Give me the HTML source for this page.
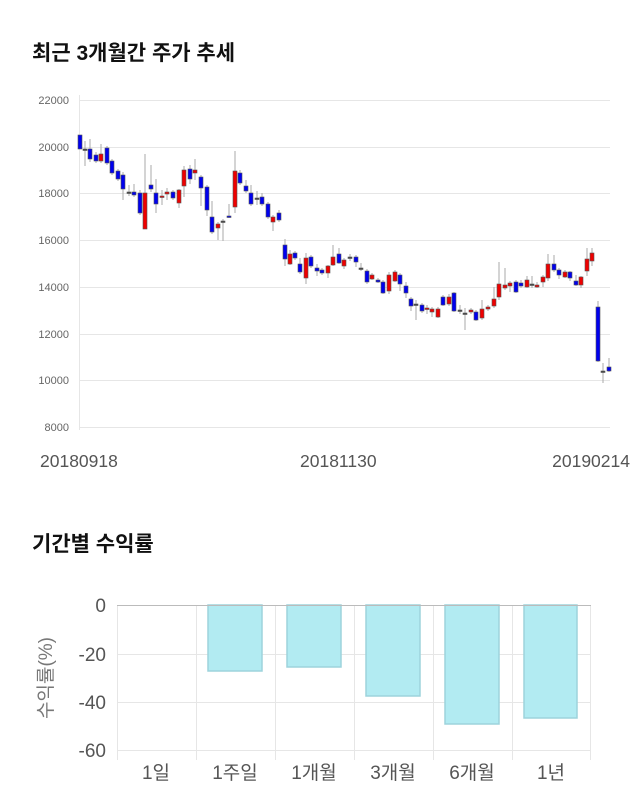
<!DOCTYPE html>
<html><head><meta charset="utf-8"><style>
body{margin:0;background:#fff;width:640px;height:810px;overflow:hidden;font-family:"Liberation Sans","Noto Sans CJK KR",sans-serif}
svg{position:absolute;left:0;top:0}
</style></head><body>
<svg id="s" width="640" height="810" xmlns="http://www.w3.org/2000/svg" font-family="Liberation Sans, Noto Sans CJK KR, sans-serif">
<text x="32" y="60" font-size="21" font-weight="bold" fill="#111">최근 3개월간 주가 추세</text>
<text x="32" y="551" font-size="21" font-weight="bold" fill="#111">기간별 수익률</text>
<g stroke="#e6e6e6" stroke-width="1">
<line x1="80" y1="100.5" x2="610" y2="100.5"/><line x1="80" y1="147.5" x2="610" y2="147.5"/>
<line x1="80" y1="193.5" x2="610" y2="193.5"/><line x1="80" y1="240.5" x2="610" y2="240.5"/>
<line x1="80" y1="287.5" x2="610" y2="287.5"/><line x1="80" y1="334.5" x2="610" y2="334.5"/>
<line x1="80" y1="380.5" x2="610" y2="380.5"/><line x1="80" y1="427.5" x2="610" y2="427.5"/>
<line x1="79.5" y1="95" x2="79.5" y2="430"/>
</g>
<g font-size="11" fill="#666" text-anchor="end">
<text x="69" y="104">22000</text><text x="69" y="151">20000</text><text x="69" y="197">18000</text>
<text x="69" y="244">16000</text><text x="69" y="291">14000</text><text x="69" y="338">12000</text>
<text x="69" y="384">10000</text><text x="69" y="431">8000</text>
</g>
<g font-size="17.5" fill="#555">
<text x="40" y="467">20180918</text><text x="300" y="467">20181130</text><text x="630" y="467" text-anchor="end">20190214</text>
</g>
<g id="c"></g>
<g stroke="#e6e6e6" stroke-width="1">
<line x1="117" y1="605.5" x2="591" y2="605.5"/><line x1="117" y1="654.5" x2="591" y2="654.5"/>
<line x1="117" y1="702.5" x2="591" y2="702.5"/><line x1="117" y1="750.5" x2="591" y2="750.5"/>
<line x1="196.5" y1="605" x2="196.5" y2="760"/><line x1="275.5" y1="605" x2="275.5" y2="760"/>
<line x1="354.5" y1="605" x2="354.5" y2="760"/><line x1="433.5" y1="605" x2="433.5" y2="760"/>
<line x1="512.5" y1="605" x2="512.5" y2="760"/><line x1="590.5" y1="605" x2="590.5" y2="760"/>
<line x1="117.5" y1="605" x2="117.5" y2="760"/>
</g>
<g fill="#b2ebf2" stroke="#9dd3dc" stroke-width="1.5">
<rect x="208" y="605" width="54" height="66"/><rect x="287" y="605" width="54" height="62"/>
<rect x="366" y="605" width="54" height="91"/><rect x="445" y="605" width="54" height="119"/>
<rect x="524" y="605" width="53" height="113"/>
</g>
<line x1="117" y1="605.5" x2="591" y2="605.5" stroke="#bbb"/>
<g font-size="19" fill="#555" text-anchor="end">
<text x="106" y="612">0</text><text x="106" y="661">-20</text><text x="106" y="709">-40</text><text x="106" y="757">-60</text>
</g>
<text transform="translate(52,678) rotate(-90)" font-size="19" fill="#777" text-anchor="middle">수익률(%)</text>
<g font-size="19" fill="#555" text-anchor="middle">
<text x="156" y="779">1일</text><text x="235" y="779">1주일</text><text x="314" y="779">1개월</text>
<text x="393" y="779">3개월</text><text x="472" y="779">6개월</text><text x="551" y="779">1년</text>
</g>
</svg>
<script>
var D=[[80,135,149,135,149,'b'],[85,141,166,149,149,'d'],[90,139,162,149,159,'b'],[96,152,163,155,161,'b'],[101,144,163,154,161,'r'],[107,146,165,148,163,'b'],[112,159,175,161,173,'b'],[118,169,181,171,179,'b'],[123,172,200,175,189,'b'],[129,185,196,192,192,'d'],[134,184,197,192,195,'b'],[140,190,215,193,213,'b'],[145,154,229,193,229,'r'],[151,165,192,185,189,'b'],[156,179,213,193,204,'b'],[162,190,205,196,197,'r'],[167,188,200,192,194,'r'],[173,190,200,192,198,'b'],[179,189,208,190,203,'r'],[184,166,197,170,186,'r'],[190,165,184,169,179,'b'],[195,159,180,170,173,'r'],[201,175,206,177,188,'b'],[207,185,216,187,210,'b'],[212,201,234,217,232,'b'],[218,222,240,224,228,'r'],[223,219,241,221,221,'d'],[229,204,218,216,217,'b'],[235,151,213,171,207,'r'],[240,170,185,173,183,'b'],[246,180,193,186,191,'b'],[251,185,206,193,204,'b'],[257,191,205,198,198,'d'],[262,193,206,197,204,'b'],[268,202,219,204,217,'b'],[273,215,231,217,222,'r'],[279,210,222,213,220,'b'],
[285,239,266,245,259,'b'],[290,250,265,254,264,'r'],[295,251,260,253,258,'b'],[300,258,274,264,272,'b'],[306,253,284,258,278,'r'],[311,255,268,257,266,'b'],[317,264,276,268,271,'b'],[322,268,275,270,273,'b'],[328,265,278,266,273,'r'],[333,245,266,257,265,'r'],[339,248,264,254,263,'b'],[344,258,269,260,266,'r'],[350,254,261,257,257,'d'],[356,255,267,257,262,'b'],[361,263,271,268,268,'d'],[367,269,284,271,282,'b'],[372,273,280,275,279,'r'],[378,278,283,280,282,'b'],[383,280,294,282,293,'b'],[389,272,294,275,291,'r'],[395,270,282,272,281,'r'],[400,273,291,275,284,'b'],[406,282,298,286,293,'b'],[411,297,311,299,306,'b'],[416,300,320,304,304,'d'],[422,303,313,305,311,'b'],[427,305,314,308,309,'r'],[432,307,317,309,312,'r'],[438,307,318,309,317,'r'],[443,295,306,297,305,'b'],[449,294,306,297,304,'r'],[454,292,312,293,311,'b'],[460,305,314,310,310,'d'],[465,308,330,313,313,'d'],[471,308,314,310,312,'r'],[476,310,321,312,320,'b'],
[482,300,320,309,318,'r'],[488,305,311,307,309,'r'],[494,287,308,299,306,'r'],[499,262,300,284,297,'r'],[505,268,290,285,288,'r'],[510,281,292,283,286,'r'],[516,280,293,282,292,'b'],[521,280,288,283,286,'b'],[527,276,288,280,287,'r'],[532,276,288,284,284,'d'],[537,282,288,285,287,'r'],[543,275,287,277,282,'r'],[548,254,281,264,278,'r'],[554,255,272,264,270,'b'],[559,268,279,270,275,'b'],[565,270,278,272,277,'r'],[570,271,281,272,278,'b'],[576,275,286,281,285,'b'],[581,276,288,277,285,'r'],[587,248,276,259,271,'r'],[592,248,266,253,261,'r'],[598,301,362,307,361,'b'],[603,363,383,371,371,'d'],[609,358,372,367,371,'b']];
var g=document.getElementById('c'),h='';
D.forEach(function(d){var x=d[0],c=d[5];
h+='<line x1="'+x+'" y1="'+d[1]+'" x2="'+x+'" y2="'+d[2]+'" stroke="#aaa" stroke-width="1"/>';
var f=c=='b'?'#0000ee':(c=='r'?'#ee0000':'#444');var hh=Math.max(1.5,d[4]-d[3]);
h+='<rect x="'+(x-2)+'" y="'+d[3]+'" width="4" height="'+hh+'" fill="'+f+'" stroke="#555" stroke-width="0.6"/>';});
g.innerHTML=h;
</script>
</body></html>
